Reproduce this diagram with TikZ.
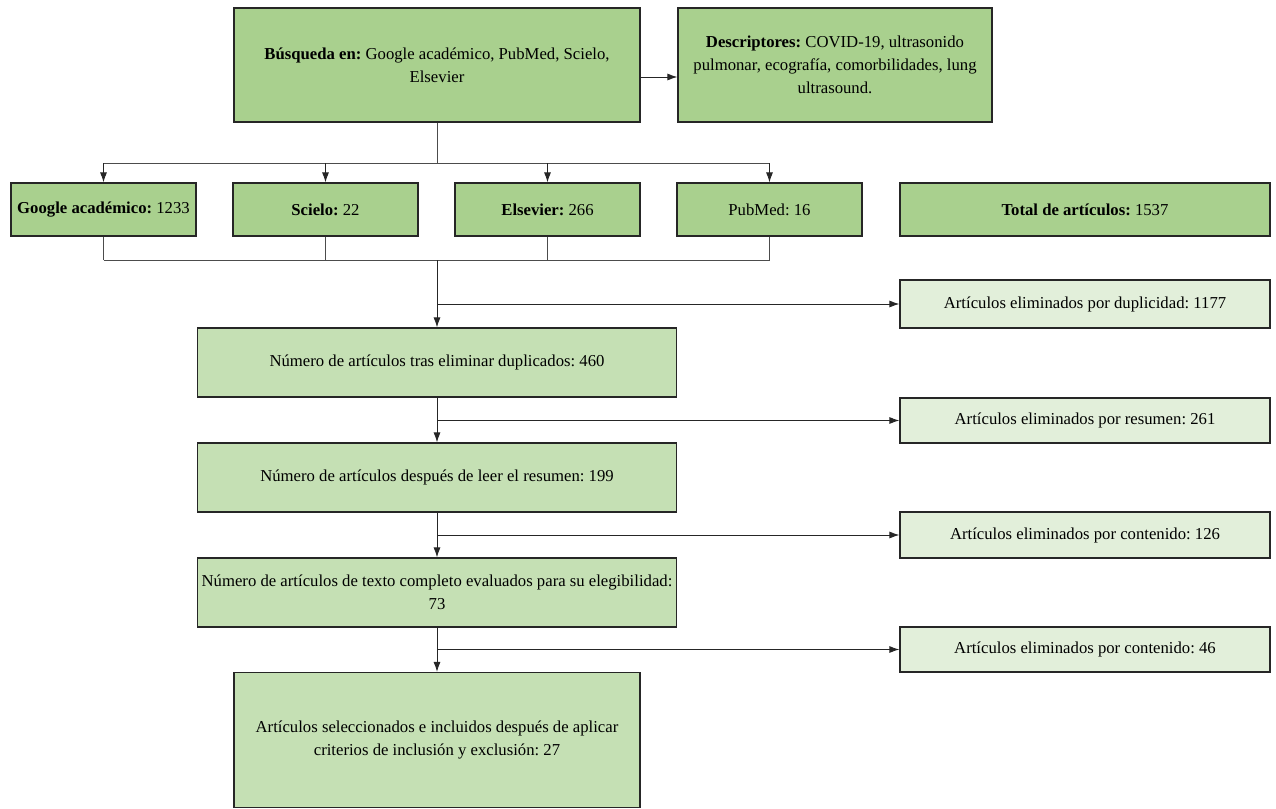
\documentclass[tikz,border=0pt]{standalone}
\usepackage{fontspec}
\setmainfont{Liberation Serif}
\usetikzlibrary{arrows.meta,positioning}

\definecolor{verdeA}{HTML}{A9D08E}
\definecolor{verdeB}{HTML}{C5E0B4}
\definecolor{verdeC}{HTML}{E2EFDA}

\tikzset{
  caja/.style={draw=black!85, line width=1.2pt, align=center, inner sep=1pt,
    font=\fontsize{16.7}{23}\selectfont\frenchspacing},
  fuente/.style={caja, fill=verdeA},
  paso/.style={caja, fill=verdeB, minimum width=479pt, minimum height=69pt},
  excluido/.style={caja, fill=verdeC, minimum width=370pt},
  base/.style={fuente, minimum width=185pt, minimum height=53pt},
  linea/.style={draw=black!70, line width=0.9pt},
  flecha/.style={linea, -{Latex[length=10pt,width=7pt]}, draw=black!85}
}

\begin{document}
\begin{tikzpicture}[x=1pt, y=-1pt, node distance=222pt, on grid]
\useasboundingbox (0,0) rectangle (1276,808);

% busqueda y descriptores
\node[fuente, minimum width=406pt, minimum height=114pt] (busq) at (437,65)
  {\textbf{Búsqueda en:} Google académico, PubMed, Scielo,\\Elsevier};
\node[fuente, minimum width=314pt, minimum height=114pt] (desc) at (835,65)
  {\textbf{Descriptores:} COVID-19, ultrasonido\\pulmonar, ecografía, comorbilidades, lung\\ultrasound.};

% bases de datos
\node[base] (goo) at (103.5,209.5) {\textbf{Google académico:} 1233};
\node[base] [right=of goo] (sci) {\textbf{Scielo:} 22};
\node[base] [right=of sci] (els) {\textbf{Elsevier:} 266};
\node[base] [right=of els] (pub) {PubMed: 16};
\node[fuente, minimum width=370pt, minimum height=53pt] (tot) at (1085,209.5)
  {\textbf{Total de artículos:} 1537};

% cribado
\node[paso] (n1) at (437,362.5) {Número de artículos tras eliminar duplicados: 460};
\node[paso] (n2) at (437,477.5) {Número de artículos después de leer el resumen: 199};
\node[paso] (n3) at (437,592.5) {Número de artículos de texto completo evaluados para su elegibilidad:\\73};
\node[caja, fill=verdeB, minimum width=406pt, minimum height=135pt] (n4) at (437,740)
  {Artículos seleccionados e incluidos después de aplicar\\criterios de inclusión y exclusión: 27};

\node[excluido, minimum height=48pt] (e1) at (1085,304) {Artículos eliminados por duplicidad: 1177};
\node[excluido, minimum height=45pt] (e2) at (1085,420.5) {Artículos eliminados por resumen: 261};
\node[excluido, minimum height=46pt] (e3) at (1085,535) {Artículos eliminados por contenido: 126};
\node[excluido, minimum height=45pt] (e4) at (1085,649.5) {Artículos eliminados por contenido: 46};

\coordinate (rep) at (437,163);
\coordinate (jun) at (437,260);

\draw[flecha] ([yshift=-12pt]busq.east) -- ([yshift=-12pt]desc.west);
\draw[linea] (busq.south) -- (rep);
\draw[linea] (rep -| goo.north) -- (rep -| pub.north);
\foreach \b in {goo,sci,els,pub}
  \draw[flecha] (rep -| \b.north) -- (\b.north);
\foreach \b in {goo,sci,els,pub}
  \draw[linea] (\b.south) -- (jun -| \b.south);
\draw[linea] (jun -| goo.south) -- (jun -| pub.south);
\draw[flecha] (jun) -- (n1.north);
\draw[flecha] (n1.south) -- (n2.north);
\draw[flecha] (n2.south) -- (n3.north);
\draw[flecha] (n3.south) -- (n4.north);

\draw[flecha] (e1.west -| n1.north) -- (e1.west);
\draw[flecha] (e2.west -| n1.north) -- (e2.west);
\draw[flecha] (e3.west -| n1.north) -- (e3.west);
\draw[flecha] (e4.west -| n1.north) -- (e4.west);
\end{tikzpicture}
\end{document}
